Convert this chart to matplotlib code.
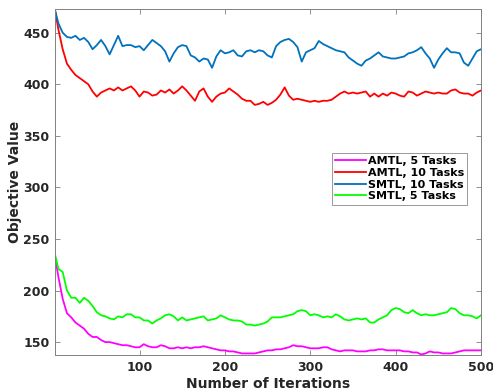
import matplotlib
matplotlib.use("Agg")
import matplotlib.pyplot as plt
import numpy as np

iterations = [1] + list(range(5, 501, 5))

amtl_5 = [233, 213, 192, 178, 174, 169, 166, 163, 158, 155, 155, 152, 150, 150, 149, 148, 147, 147, 146, 145,
          145, 148, 146, 145, 145, 147, 146, 144, 144, 145, 144, 145, 144, 145, 145, 146, 145, 144, 143, 142,
          142, 141, 141, 140, 139, 139, 139, 139, 140, 141, 142, 142, 143, 143, 144, 145, 147, 146, 146, 145,
          144, 144, 144, 145, 145, 143, 142, 141, 142, 142, 142, 141, 141, 141, 142, 142, 143, 143, 142, 142,
          142, 142, 141, 141, 140, 140, 138, 139, 141, 140, 140, 139, 139, 139, 140, 141, 142, 142, 142, 142, 142]

amtl_10 = [472, 453, 434, 420, 414, 409, 406, 403, 400, 393, 388, 392, 394, 396, 394, 397, 394, 396, 398, 394,
           388, 393, 392, 389, 390, 394, 392, 395, 391, 394, 398, 394, 389, 384, 393, 396, 388, 383, 388, 391,
           392, 396, 393, 390, 386, 384, 384, 380, 381, 383, 380, 382, 385, 390, 397, 389, 385, 386, 385, 384,
           383, 384, 383, 384, 384, 385, 388, 391, 393, 391, 392, 391, 392, 393, 388, 391, 388, 391, 389, 392,
           391, 389, 388, 393, 392, 389, 391, 393, 392, 391, 392, 391, 391, 394, 395, 392, 391, 391, 389, 392, 394]

smtl_10 = [472, 459, 450, 446, 445, 447, 443, 445, 441, 434, 438, 443, 437, 429, 438, 447, 437, 438, 438, 436,
           437, 433, 438, 443, 440, 437, 432, 422, 430, 436, 438, 437, 428, 426, 422, 425, 424, 416, 427, 433,
           430, 431, 433, 428, 427, 432, 433, 431, 433, 432, 428, 426, 437, 441, 443, 444, 441, 436, 422, 431,
           433, 435, 442, 439, 437, 435, 433, 432, 431, 426, 423, 420, 418, 423, 425, 428, 431, 427, 426, 425,
           425, 426, 427, 430, 431, 433, 436, 430, 425, 416, 424, 430, 435, 431, 431, 430, 421, 418, 425, 432, 434]

smtl_5 = [235, 221, 218, 200, 193, 193, 188, 193, 190, 185, 179, 176, 175, 173, 172, 175, 174, 177, 177, 174,
          174, 171, 171, 168, 171, 173, 176, 177, 175, 171, 174, 171, 172, 173, 174, 175, 171, 172, 173, 176,
          174, 172, 171, 171, 170, 167, 167, 166, 167, 168, 170, 174, 174, 174, 175, 176, 177, 180, 181, 180,
          176, 177, 176, 174, 175, 174, 177, 175, 172, 171, 172, 173, 172, 173, 169, 169, 172, 174, 176, 181,
          183, 182, 179, 178, 181, 178, 176, 177, 176, 176, 177, 178, 179, 183, 182, 178, 176, 176, 175, 173, 176]

labels = ["AMTL, 5 Tasks", "AMTL, 10 Tasks", "SMTL, 10 Tasks", "SMTL, 5 Tasks"]
colors = ["#FF00FF", "#FF0000", "#0072BD", "#00FF00"]
series = [amtl_5, amtl_10, smtl_10, smtl_5]

xticks = [100, 200, 300, 400, 500]
yticks = [150, 200, 250, 300, 350, 400, 450]

plt.rcParams['font.family'] = ['DejaVu Sans']
plt.rcParams['font.weight'] = 'bold'

fig = plt.figure(figsize=(4.93, 3.91), dpi=100)
ax = fig.add_axes([55/493, 1-355/391, (481-55)/493, (355-9)/391])

for s, c, l in zip(series, colors, labels):
    ax.plot(iterations, s, color=c, lw=1.3, label=l)

ax.set_xlim(1, 500)
ax.set_ylim(137.5, 473)
ax.set_xticks(xticks)
ax.set_yticks(yticks)
ax.tick_params(direction='in', length=3.5, width=0.6, top=True, right=True,
               labelsize=9, colors='#262626', pad=4)
for lab in ax.get_xticklabels() + ax.get_yticklabels():
    lab.set_fontweight('bold')
for sp in ax.spines.values():
    sp.set_color('#808080')
    sp.set_linewidth(0.7)
ax.tick_params(axis='both', color='#808080')

ax.set_xlabel("Number of Iterations", fontsize=10, fontweight='bold', color='#262626', labelpad=2.5)
ax.set_ylabel("Objective Value", fontsize=10, fontweight='bold', color='#262626', labelpad=1)

leg = ax.legend(loc='upper left', bbox_to_anchor=((332-55)/426, 1-(153-9)/346),
                fontsize=8, frameon=True, fancybox=False, handlelength=2.8,
                handletextpad=0.1, borderpad=0.3, labelspacing=0.15, borderaxespad=0)
leg.get_frame().set_edgecolor('#808080')
leg.get_frame().set_linewidth(0.7)
for t in leg.get_texts():
    t.set_fontweight('bold')
    t.set_color('#000000')

fig.savefig("out.png", dpi=100)
